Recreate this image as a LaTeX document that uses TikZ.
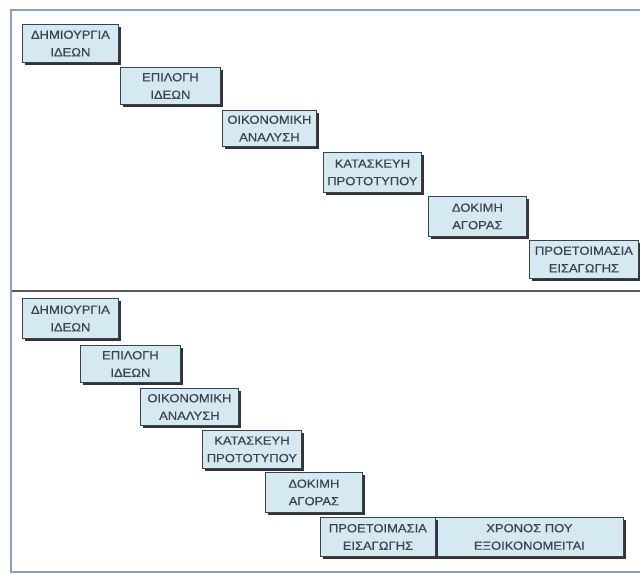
\documentclass[tikz,border=0pt]{standalone}
\usepackage{fontspec}
\setmainfont{Liberation Sans}
\newfontfamily\boxfont[FakeStretch=1.1,FakeBold=0.4]{Liberation Sans}
\usetikzlibrary{shadows}
\definecolor{boxfill}{HTML}{D4E9F2}
\definecolor{boxline}{HTML}{3A424C}
\definecolor{boxtext}{HTML}{3A4450}
\definecolor{framecol}{HTML}{8A9CC8}
\tikzset{
  stage/.style={draw=boxline, line width=0.8pt, fill=boxfill, anchor=north west,
    inner sep=1pt, align=center, text=boxtext,
    font=\boxfont\fontsize{11.8}{17.5}\selectfont,
    drop shadow={shadow xshift=2.8pt, shadow yshift=-2.8pt, fill=black!80, opacity=1}},
  framel/.style={draw=framecol, line width=2pt},
  sepl/.style={draw=black!65, line width=1.2pt}
}
\begin{document}
\begin{tikzpicture}[x=1pt,y=-1pt]
\useasboundingbox (0,0) rectangle (640,574);
\fill[white] (0,0) rectangle (640,574);
% frame
\draw[framel] (640,10) -- (11,10) -- (11,572) -- (640,572);
% separator
\draw[sepl] (12,291) -- (640,291);
% top sequence
\node[stage, minimum width=96pt, minimum height=38pt] (t1) at (22,24) {ΔΗΜΙΟΥΡΓΙΑ\\ΙΔΕΩΝ};
\node[stage, minimum width=100pt, minimum height=37pt] (t2) at (120,67) {ΕΠΙΛΟΓΗ\\ΙΔΕΩΝ};
\node[stage, minimum width=94pt, minimum height=36pt] (t3) at (222,110) {ΟΙΚΟΝΟΜΙΚΗ\\ΑΝΑΛΥΣΗ};
\node[stage, minimum width=98pt, minimum height=40pt] (t4) at (323,152) {ΚΑΤΑΣΚΕΥΗ\\ΠΡΟΤΟΤΥΠΟΥ};
\node[stage, minimum width=98pt, minimum height=40pt] (t5) at (428,196) {ΔΟΚΙΜΗ\\ΑΓΟΡΑΣ};
\node[stage, minimum width=109pt, minimum height=38pt] (t6) at (529,240) {ΠΡΟΕΤΟΙΜΑΣΙΑ\\ΕΙΣΑΓΩΓΗΣ};
% bottom sequence
\node[stage, minimum width=96pt, minimum height=40pt] (b1) at (22,298) {ΔΗΜΙΟΥΡΓΙΑ\\ΙΔΕΩΝ};
\node[stage, minimum width=100pt, minimum height=37pt] (b2) at (80,345) {ΕΠΙΛΟΓΗ\\ΙΔΕΩΝ};
\node[stage, minimum width=98pt, minimum height=37pt] (b3) at (140,388) {ΟΙΚΟΝΟΜΙΚΗ\\ΑΝΑΛΥΣΗ};
\node[stage, minimum width=99pt, minimum height=38pt] (b4) at (202,430) {ΚΑΤΑΣΚΕΥΗ\\ΠΡΟΤΟΤΥΠΟΥ};
\node[stage, minimum width=97pt, minimum height=40pt] (b5) at (265,472) {ΔΟΚΙΜΗ\\ΑΓΟΡΑΣ};
\node[stage, minimum width=188pt, minimum height=39pt] (b7) at (435,517) {ΧΡΟΝΟΣ ΠΟΥ\\ΕΞΟΙΚΟΝΟΜΕΙΤΑΙ};
\node[stage, minimum width=115pt, minimum height=39pt] (b6) at (320,517) {ΠΡΟΕΤΟΙΜΑΣΙΑ\\ΕΙΣΑΓΩΓΗΣ};
\end{tikzpicture}
\end{document}
